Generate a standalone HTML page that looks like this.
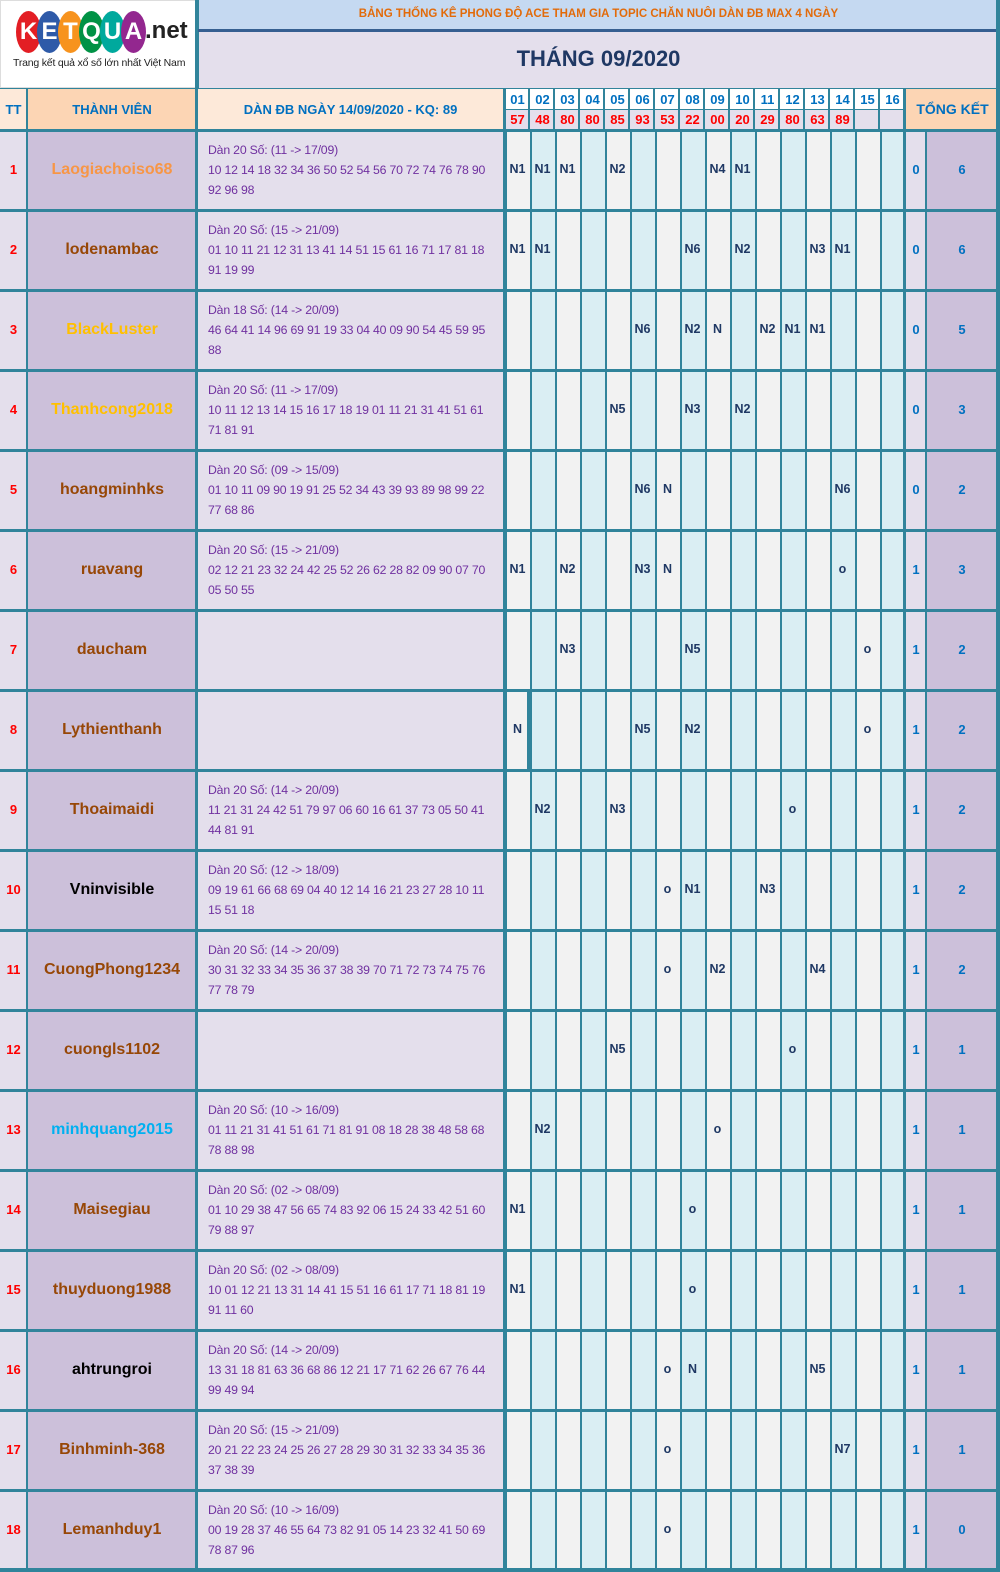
<!DOCTYPE html>
<html><head><meta charset="utf-8">
<style>
*{margin:0;padding:0;box-sizing:border-box}
body{width:1000px;height:1572px;position:relative;background:#fff;font-family:"Liberation Sans",sans-serif;overflow:hidden}
.a{position:absolute}
.grid{position:absolute;left:505px;top:130px;width:400px;height:1440px;background:repeating-linear-gradient(90deg,#31849b 0,#31849b 2px,#f2f2f2 2px,#f2f2f2 25px,#31849b 25px,#31849b 27px,#daeef3 27px,#daeef3 50px)}
.row{position:absolute;left:0;width:1000px;height:80px}
.tt{position:absolute;left:0;width:27px;top:0;height:80px;line-height:80px;text-align:center;color:#ff0000;font-weight:bold;font-size:13px;background:#e4dfec}
.nm{position:absolute;left:28px;width:168px;top:0;height:80px;line-height:80px;text-align:center;font-weight:bold;font-size:16px;background:#ccc0da;color:#974706;white-space:nowrap}
.dn{position:absolute;left:197px;width:308px;top:0;height:80px;background:#e4dfec;color:#7030a0;font-size:12.3px;line-height:20px;padding:10px 0 0 11px;white-space:nowrap;letter-spacing:-0.2px;overflow:hidden}
.m{position:absolute;top:32px;width:25px;text-align:center;font-weight:bold;font-size:12.5px;color:#1f3864}
.t1{position:absolute;left:905px;width:22px;top:0;height:80px;line-height:80px;text-align:center;color:#0070c0;font-weight:bold;font-size:13px;background:#e4dfec}
.t2{position:absolute;left:927px;width:70px;top:0;height:80px;line-height:80px;text-align:center;color:#0070c0;font-weight:bold;font-size:13px;background:#ccc0da}
.hl{position:absolute;left:0;width:997px;height:3px;background:#31849b}
.vl{position:absolute;width:2px;background:#31849b}
.hd{position:absolute;top:112px;width:25px;text-align:center;color:#ff0000;font-weight:bold;font-size:13px}
.hd2{position:absolute;top:92px;width:25px;text-align:center;color:#0070c0;font-weight:bold;font-size:13px}
.lg{position:absolute;top:11px;width:25px;height:42px;border-radius:50%;color:#fff;font-weight:bold;font-size:24px;text-align:center;line-height:42px}
</style></head><body>
<!-- logo -->
<div class="a" style="left:0;top:0;width:197px;height:88px;background:#fff;border:1px solid #ddd"></div>
<div class="lg" style="left:16px;background:#e31e24">K</div>
<div class="lg" style="left:37px;background:#2e5aa8">E</div>
<div class="lg" style="left:58px;background:#f7931e">T</div>
<div class="lg" style="left:79px;background:#009245">Q</div>
<div class="lg" style="left:100px;background:#00a99d">U</div>
<div class="lg" style="left:121px;background:#93278f">A</div>
<div class="a" style="left:145px;top:17px;font-size:24px;font-weight:bold;color:#222">.net</div>
<div class="a" style="left:13px;top:57px;font-size:10.5px;color:#222;white-space:nowrap;letter-spacing:-0.2px">Trang kết quả xổ số lớn nhất Việt Nam</div>
<!-- title -->
<div class="a" style="left:197px;top:0;width:803px;height:31px;background:#c5d9f1;border-left:2px solid #31849b"></div>
<div class="a" style="left:197px;top:8px;width:803px;text-align:center;color:#e26b0a;font-weight:bold;font-size:11.5px">BẢNG THỐNG KÊ PHONG ĐỘ ACE THAM GIA TOPIC CHĂN NUÔI DÀN ĐB MAX 4 NGÀY</div>
<div class="a" style="left:197px;top:29px;width:803px;height:3px;background:#365f91"></div>
<div class="a" style="left:197px;top:32px;width:803px;height:56px;background:#e4dfec;border-left:2px solid #31849b"></div>
<div class="a" style="left:197px;top:46px;width:803px;text-align:center;color:#1f3864;font-weight:bold;font-size:22px">THÁNG 09/2020</div>
<!-- header row -->
<div class="a" style="left:0;top:88px;width:1000px;height:42px;background:#31849b"></div>
<div class="a" style="left:0;top:89px;width:27px;height:41px;background:#fde9d9;color:#0070c0;font-weight:bold;font-size:13px;text-align:center;line-height:41px">TT</div>
<div class="a" style="left:28px;top:89px;width:168px;height:41px;background:#fcd5b4;color:#0070c0;font-weight:bold;font-size:13px;text-align:center;line-height:41px">THÀNH VIÊN</div>
<div class="a" style="left:198px;top:89px;width:305px;height:41px;background:#fde9d9;color:#0070c0;font-weight:bold;font-size:13px;text-align:center;line-height:41px">DÀN ĐB NGÀY 14/09/2020 - KQ: 89</div>
<div class="a" style="left:505px;top:89px;width:400px;height:20px;background:repeating-linear-gradient(90deg,#fff 0,#fff 23px,#31849b 23px,#31849b 25px)"></div>
<div class="a" style="left:505px;top:110px;width:400px;height:20px;background:repeating-linear-gradient(90deg,#e4dfec 0,#e4dfec 23px,#31849b 23px,#31849b 25px)"></div>
<div class="a" style="left:905px;top:89px;width:95px;height:41px;background:#fcd5b4;color:#0070c0;font-weight:bold;font-size:14px;text-align:center;line-height:41px">TỔNG KẾT</div>
<div class="hd2" style="left:505px">01</div><div class="hd2" style="left:530px">02</div><div class="hd2" style="left:555px">03</div><div class="hd2" style="left:580px">04</div><div class="hd2" style="left:605px">05</div><div class="hd2" style="left:630px">06</div><div class="hd2" style="left:655px">07</div><div class="hd2" style="left:680px">08</div><div class="hd2" style="left:705px">09</div><div class="hd2" style="left:730px">10</div><div class="hd2" style="left:755px">11</div><div class="hd2" style="left:780px">12</div><div class="hd2" style="left:805px">13</div><div class="hd2" style="left:830px">14</div><div class="hd2" style="left:855px">15</div><div class="hd2" style="left:880px">16</div>
<div class="hd" style="left:505px">57</div><div class="hd" style="left:530px">48</div><div class="hd" style="left:555px">80</div><div class="hd" style="left:580px">80</div><div class="hd" style="left:605px">85</div><div class="hd" style="left:630px">93</div><div class="hd" style="left:655px">53</div><div class="hd" style="left:680px">22</div><div class="hd" style="left:705px">00</div><div class="hd" style="left:730px">20</div><div class="hd" style="left:755px">29</div><div class="hd" style="left:780px">80</div><div class="hd" style="left:805px">63</div><div class="hd" style="left:830px">89</div>
<!-- body -->
<div class="a" style="left:0;top:130px;width:1000px;height:1442px;background:#31849b"></div>
<div class="grid"></div>

<div class="row" style="top:130px"><div class="tt">1</div><div class="nm" style="color:#f79646">Laogiachoiso68</div><div class="dn">Dàn 20 Số: (11 -&gt; 17/09)<br>10 12 14 18 32 34 36 50 52 54 56 70 72 74 76 78 90<br>92 96 98</div>
<span class="m" style="left:505px">N1</span><span class="m" style="left:530px">N1</span><span class="m" style="left:555px">N1</span><span class="m" style="left:605px">N2</span><span class="m" style="left:705px">N4</span><span class="m" style="left:730px">N1</span><div class="t1">0</div><div class="t2">6</div></div>

<div class="row" style="top:210px"><div class="tt">2</div><div class="nm">lodenambac</div><div class="dn">Dàn 20 Số: (15 -&gt; 21/09)<br>01 10 11 21 12 31 13 41 14 51 15 61 16 71 17 81 18<br>91 19 99</div>
<span class="m" style="left:505px">N1</span><span class="m" style="left:530px">N1</span><span class="m" style="left:680px">N6</span><span class="m" style="left:730px">N2</span><span class="m" style="left:805px">N3</span><span class="m" style="left:830px">N1</span><div class="t1">0</div><div class="t2">6</div></div>

<div class="row" style="top:290px"><div class="tt">3</div><div class="nm" style="color:#ffc000">BlackLuster</div><div class="dn">Dàn 18 Số: (14 -&gt; 20/09)<br>46 64 41 14 96 69 91 19 33 04 40 09 90 54 45 59 95<br>88</div>
<span class="m" style="left:630px">N6</span><span class="m" style="left:680px">N2</span><span class="m" style="left:705px">N</span><span class="m" style="left:755px">N2</span><span class="m" style="left:780px">N1</span><span class="m" style="left:805px">N1</span><div class="t1">0</div><div class="t2">5</div></div>

<div class="row" style="top:370px"><div class="tt">4</div><div class="nm" style="color:#ffc000">Thanhcong2018</div><div class="dn">Dàn 20 Số: (11 -&gt; 17/09)<br>10 11 12 13 14 15 16 17 18 19 01 11 21 31 41 51 61<br>71 81 91</div>
<span class="m" style="left:605px">N5</span><span class="m" style="left:680px">N3</span><span class="m" style="left:730px">N2</span><div class="t1">0</div><div class="t2">3</div></div>

<div class="row" style="top:450px"><div class="tt">5</div><div class="nm">hoangminhks</div><div class="dn">Dàn 20 Số: (09 -&gt; 15/09)<br>01 10 11 09 90 19 91 25 52 34 43 39 93 89 98 99 22<br>77 68 86</div>
<span class="m" style="left:630px">N6</span><span class="m" style="left:655px">N</span><span class="m" style="left:830px">N6</span><div class="t1">0</div><div class="t2">2</div></div>

<div class="row" style="top:530px"><div class="tt">6</div><div class="nm">ruavang</div><div class="dn">Dàn 20 Số: (15 -&gt; 21/09)<br>02 12 21 23 32 24 42 25 52 26 62 28 82 09 90 07 70<br>05 50 55</div>
<span class="m" style="left:505px">N1</span><span class="m" style="left:555px">N2</span><span class="m" style="left:630px">N3</span><span class="m" style="left:655px">N</span><span class="m" style="left:830px">o</span><div class="t1">1</div><div class="t2">3</div></div>

<div class="row" style="top:610px"><div class="tt">7</div><div class="nm">daucham</div><div class="dn"></div>
<span class="m" style="left:555px">N3</span><span class="m" style="left:680px">N5</span><span class="m" style="left:855px">o</span><div class="t1">1</div><div class="t2">2</div></div>

<div class="row" style="top:690px"><div class="tt">8</div><div class="nm">Lythienthanh</div><div class="dn"></div>
<span class="m" style="left:505px">N</span><span class="m" style="left:630px">N5</span><span class="m" style="left:680px">N2</span><span class="m" style="left:855px">o</span><div class="t1">1</div><div class="t2">2</div></div>

<div class="row" style="top:770px"><div class="tt">9</div><div class="nm">Thoaimaidi</div><div class="dn">Dàn 20 Số: (14 -&gt; 20/09)<br>11 21 31 24 42 51 79 97 06 60 16 61 37 73 05 50 41<br>44 81 91</div>
<span class="m" style="left:530px">N2</span><span class="m" style="left:605px">N3</span><span class="m" style="left:780px">o</span><div class="t1">1</div><div class="t2">2</div></div>

<div class="row" style="top:850px"><div class="tt">10</div><div class="nm" style="color:#000">Vninvisible</div><div class="dn">Dàn 20 Số: (12 -&gt; 18/09)<br>09 19 61 66 68 69 04 40 12 14 16 21 23 27 28 10 11<br>15 51 18</div>
<span class="m" style="left:655px">o</span><span class="m" style="left:680px">N1</span><span class="m" style="left:755px">N3</span><div class="t1">1</div><div class="t2">2</div></div>

<div class="row" style="top:930px"><div class="tt">11</div><div class="nm">CuongPhong1234</div><div class="dn">Dàn 20 Số: (14 -&gt; 20/09)<br>30 31 32 33 34 35 36 37 38 39 70 71 72 73 74 75 76<br>77 78 79</div>
<span class="m" style="left:655px">o</span><span class="m" style="left:705px">N2</span><span class="m" style="left:805px">N4</span><div class="t1">1</div><div class="t2">2</div></div>

<div class="row" style="top:1010px"><div class="tt">12</div><div class="nm">cuongls1102</div><div class="dn"></div>
<span class="m" style="left:605px">N5</span><span class="m" style="left:780px">o</span><div class="t1">1</div><div class="t2">1</div></div>

<div class="row" style="top:1090px"><div class="tt">13</div><div class="nm" style="color:#00b0f0">minhquang2015</div><div class="dn">Dàn 20 Số: (10 -&gt; 16/09)<br>01 11 21 31 41 51 61 71 81 91 08 18 28 38 48 58 68<br>78 88 98</div>
<span class="m" style="left:530px">N2</span><span class="m" style="left:705px">o</span><div class="t1">1</div><div class="t2">1</div></div>

<div class="row" style="top:1170px"><div class="tt">14</div><div class="nm">Maisegiau</div><div class="dn">Dàn 20 Số: (02 -&gt; 08/09)<br>01 10 29 38 47 56 65 74 83 92 06 15 24 33 42 51 60<br>79 88 97</div>
<span class="m" style="left:505px">N1</span><span class="m" style="left:680px">o</span><div class="t1">1</div><div class="t2">1</div></div>

<div class="row" style="top:1250px"><div class="tt">15</div><div class="nm">thuyduong1988</div><div class="dn">Dàn 20 Số: (02 -&gt; 08/09)<br>10 01 12 21 13 31 14 41 15 51 16 61 17 71 18 81 19<br>91 11 60</div>
<span class="m" style="left:505px">N1</span><span class="m" style="left:680px">o</span><div class="t1">1</div><div class="t2">1</div></div>

<div class="row" style="top:1330px"><div class="tt">16</div><div class="nm" style="color:#000">ahtrungroi</div><div class="dn">Dàn 20 Số: (14 -&gt; 20/09)<br>13 31 18 81 63 36 68 86 12 21 17 71 62 26 67 76 44<br>99 49 94</div>
<span class="m" style="left:655px">o</span><span class="m" style="left:680px">N</span><span class="m" style="left:805px">N5</span><div class="t1">1</div><div class="t2">1</div></div>

<div class="row" style="top:1410px"><div class="tt">17</div><div class="nm">Binhminh-368</div><div class="dn">Dàn 20 Số: (15 -&gt; 21/09)<br>20 21 22 23 24 25 26 27 28 29 30 31 32 33 34 35 36<br>37 38 39</div>
<span class="m" style="left:655px">o</span><span class="m" style="left:830px">N7</span><div class="t1">1</div><div class="t2">1</div></div>

<div class="row" style="top:1490px"><div class="tt">18</div><div class="nm">Lemanhduy1</div><div class="dn">Dàn 20 Số: (10 -&gt; 16/09)<br>00 19 28 37 46 55 64 73 82 91 05 14 23 32 41 50 69<br>78 87 96</div>
<span class="m" style="left:655px">o</span><div class="t1">1</div><div class="t2">0</div></div>

<!-- grid lines -->
<div class="hl" style="top:129px"></div><div class="hl" style="top:209px"></div><div class="hl" style="top:289px"></div><div class="hl" style="top:369px"></div><div class="hl" style="top:449px"></div><div class="hl" style="top:529px"></div><div class="hl" style="top:609px"></div><div class="hl" style="top:689px"></div><div class="hl" style="top:769px"></div><div class="hl" style="top:849px"></div><div class="hl" style="top:929px"></div><div class="hl" style="top:1009px"></div><div class="hl" style="top:1089px"></div><div class="hl" style="top:1169px"></div><div class="hl" style="top:1249px"></div><div class="hl" style="top:1329px"></div><div class="hl" style="top:1409px"></div><div class="hl" style="top:1489px"></div><div class="hl" style="top:1568px"></div>
<div class="vl" style="left:26px;top:88px;height:1482px"></div>
<div class="vl" style="left:195px;top:0;height:1570px;width:3px"></div>
<div class="vl" style="left:503px;top:88px;height:1482px;width:3px"></div>
<div class="vl" style="left:903px;top:88px;height:1482px;width:3px"></div>
<div class="vl" style="left:925px;top:130px;height:1440px"></div>
<div class="vl" style="left:996px;top:0;height:1572px;width:4px"></div>
<div class="vl" style="left:527px;top:690px;height:80px;width:3px"></div>
</body></html>
